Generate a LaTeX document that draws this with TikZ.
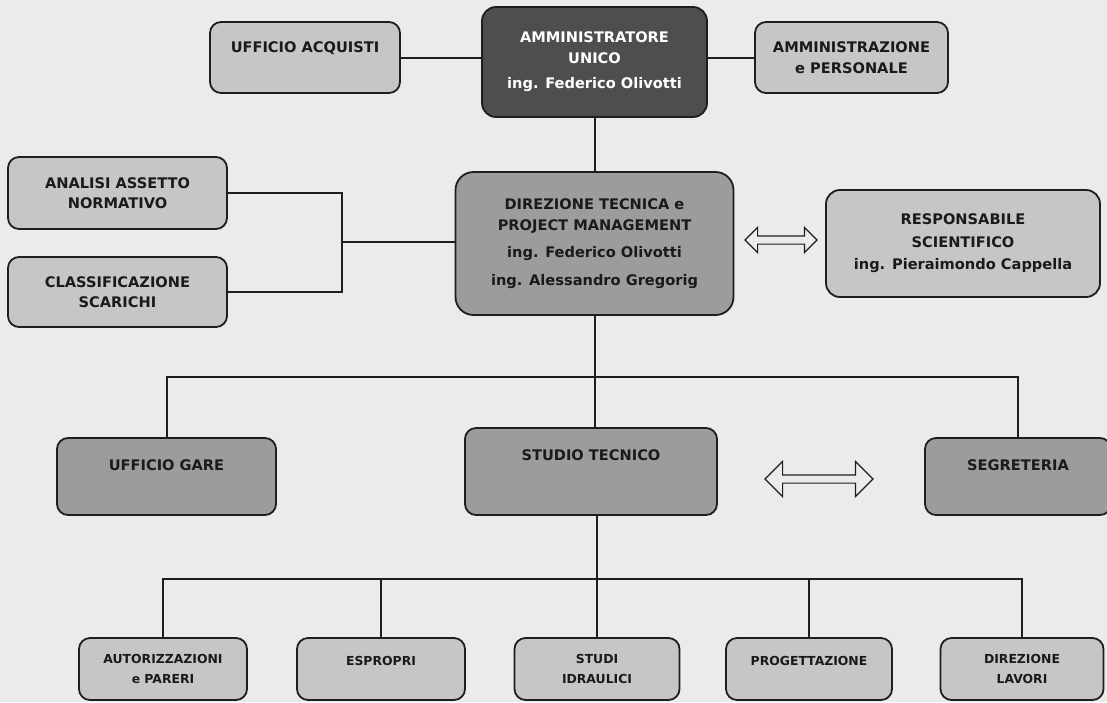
\documentclass[tikz,border=0pt]{standalone}
\usepackage{fontspec}
\setmainfont{DejaVu Sans}
\usetikzlibrary{shapes.arrows}

\definecolor{paper}{HTML}{EBEBEB}
\definecolor{edge}{HTML}{1E1E1E}
\definecolor{ink}{HTML}{1A1A1A}
\definecolor{lightg}{HTML}{C6C6C6}
\definecolor{midg}{HTML}{9C9C9C}
\definecolor{darkg}{HTML}{4E4E4E}

\tikzset{
  box/.style={draw=edge, line width=1.8pt, rounded corners=11pt, align=center,
    text=ink, inner sep=0pt, font=\bfseries\fontsize{14.6}{20.5}\selectfont},
  lightbox/.style={box, fill=lightg},
  midbox/.style={box, fill=midg},
  darkbox/.style={box, fill=darkg, text=white},
  lowbox/.style={lightbox, font=\bfseries\fontsize{12.4}{19.5}\selectfont},
  twin/.style={double arrow, draw=edge, line width=1.1pt, fill=paper,
    inner xsep=0pt, inner ysep=3.5pt},
  link/.style={draw=edge, line width=2pt}
}

\begin{document}
\begin{tikzpicture}[x=1pt, y=-1pt]
  \fill[paper] (0,0) rectangle (1107,702);
  \useasboundingbox (0,0) rectangle (1107,702);

  % top level
  \node[darkbox, minimum width=225pt, minimum height=110pt, rounded corners=14pt] (admin) at (594.5,62)
    {AMMINISTRATORE\\UNICO\\[5pt]ing. Federico Olivotti};
  \node[lightbox, minimum width=190pt, minimum height=71pt] (acquisti) at (305,57.5)
    {UFFICIO ACQUISTI\\[1pt]\mbox{}};
  \node[lightbox, minimum width=193pt, minimum height=71pt] (personale) at (851.5,57.5)
    {AMMINISTRAZIONE\\e PERSONALE};

  % direzione tecnica
  \node[midbox, minimum width=278pt, minimum height=143pt, rounded corners=18pt] (dirtec) at (594.5,243.5)
    {DIREZIONE TECNICA e\\PROJECT MANAGEMENT\\[7pt]ing. Federico Olivotti\\[7pt]ing. Alessandro Gregorig};
  \node[lightbox, minimum width=219pt, minimum height=72pt] (analisi) at (117.5,193)
    {ANALISI ASSETTO\\NORMATIVO};
  \node[lightbox, minimum width=219pt, minimum height=70pt] (scarichi) at (117.5,292)
    {CLASSIFICAZIONE\\SCARICHI};
  \node[lightbox, minimum width=274pt, minimum height=107pt, rounded corners=14pt] (scientifico) at (963,243.5)
    {RESPONSABILE\\[2pt]SCIENTIFICO\\[2pt]ing. Pieraimondo Cappella};
  \node[twin, minimum height=72pt, double arrow head extend=8.5pt] (arrowA) at (781,240) {};

  % middle level
  \node[midbox, minimum width=219pt, minimum height=77pt] (gare) at (166.5,476.5)
    {UFFICIO GARE\\[2pt]\mbox{}};
  \node[midbox, minimum width=252pt, minimum height=87pt] (studio) at (591,471.5)
    {STUDIO TECNICO\\[13pt]\mbox{}};
  \node[midbox, minimum width=186pt, minimum height=77pt] (segreteria) at (1018,476.5)
    {SEGRETERIA\\[2pt]\mbox{}};
  \node[twin, minimum height=108pt, double arrow head extend=13.5pt] (arrowB) at (819,479) {};

  % bottom level
  \node[lowbox, minimum width=168pt, minimum height=62pt] (autor) at (163,669)
    {AUTORIZZAZIONI\\e PARERI};
  \node[lowbox, minimum width=168pt, minimum height=62pt] (espropri) at (381,669)
    {ESPROPRI\\[-4pt]\mbox{}};
  \node[lowbox, minimum width=165pt, minimum height=62pt] (idraulici) at (597,669)
    {STUDI\\IDRAULICI};
  \node[lowbox, minimum width=166pt, minimum height=62pt] (progetto) at (809,669)
    {PROGETTAZIONE\\[-4pt]\mbox{}};
  \node[lowbox, minimum width=163pt, minimum height=62pt] (lavori) at (1022,669)
    {DIREZIONE\\LAVORI};

  \coordinate (fork) at (342,242);
  \coordinate (busA) at (595,377);
  \coordinate (busB) at (597,579);

  % connectors
  \draw[link] (acquisti.east) -- (acquisti.east -| admin.west);
  \draw[link] (personale.west -| admin.east) -- (personale.west);
  \draw[link] (admin.south) -- (dirtec.north);
  \draw[link] (analisi.east) -| (fork) |- (scarichi.east);
  \draw[link] (fork) -- (fork -| dirtec.west);
  \draw[link] (dirtec.south) -- (dirtec.south |- studio.north);
  \draw[link] (gare.north) |- (busA) -| (segreteria.north);
  \draw[link] (studio.south -| busB) -- (busB);
  \draw[link] (autor.north) |- (busB) -| (lavori.north);
  \draw[link] (espropri.north) -- (espropri.north |- busB);
  \draw[link] (idraulici.north) -- (busB);
  \draw[link] (progetto.north) -- (progetto.north |- busB);
\end{tikzpicture}
\end{document}
